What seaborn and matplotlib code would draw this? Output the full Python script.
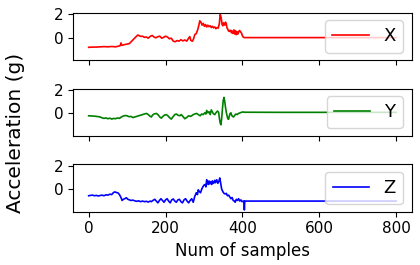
import matplotlib
matplotlib.use("Agg")
import matplotlib.pyplot as plt
import seaborn as sns
import pandas as pd

# ---- data ----
x_samples = [0, 10, 20, 30, 40, 50, 60, 70, 78, 82, 84, 86, 90, 95, 100, 106, 112, 118, 124, 128,
             132, 136, 140, 145, 150, 155, 160, 165, 170, 175, 180, 185, 190, 195, 200, 205, 210,
             215, 220, 225, 230, 235, 240, 245, 250, 255, 260, 263, 266, 270, 273, 276, 280, 284,
             287, 289, 292, 295, 298, 301, 304, 307, 310, 313, 316, 319, 322, 325, 328, 331, 334,
             337, 340, 342, 343, 345, 347, 349, 351, 354, 356, 358, 360, 362, 364, 366, 368, 370,
             372, 374, 376, 378, 380, 382, 384, 386, 388, 390, 392, 394, 396, 398, 400, 402, 405,
             500, 600, 700, 800]
x_accel = [-0.82, -0.80, -0.80, -0.78, -0.76, -0.78, -0.75, -0.78, -0.72, -0.68, -0.45, -0.65,
           -0.62, -0.58, -0.55, -0.50, -0.30, -0.10, 0.10, 0.22, 0.15, 0.10, 0.12, 0.02, 0.05,
           -0.05, 0.10, 0.18, 0.05, -0.02, 0.08, 0.12, -0.05, 0.02, 0.12, 0.05, -0.10, -0.05,
           -0.30, -0.35, -0.25, -0.30, -0.18, -0.28, -0.20, -0.30, -0.05, 0.08, -0.25, -0.30,
           -0.10, 0.25, 0.35, 0.70, 1.10, 1.42, 1.30, 1.05, 1.20, 0.95, 1.10, 0.90, 1.05, 0.92,
           1.00, 0.85, 0.95, 0.82, 0.90, 0.75, 0.85, 0.80, 1.20, 1.95, 1.90, 1.60, 1.10, 1.00,
           1.25, 1.05, 1.30, 1.15, 0.80, 0.70, 0.55, 0.60, 0.50, 0.62, 0.40, 0.55, 0.35, 0.65,
           0.30, 0.58, 0.25, 0.50, 0.30, 0.45, 0.60, 0.55, 0.45, 0.35, 0.15, 0.05, 0.00,
           0.00, 0.00, 0.00, 0.00]

y_samples = [0, 10, 20, 30, 35, 40, 45, 50, 55, 60, 65, 70, 75, 80, 85, 90, 95, 100, 105, 110,
             115, 120, 125, 130, 135, 140, 145, 150, 155, 160, 163, 166, 170, 176, 180, 185, 189,
             193, 197, 202, 206, 210, 215, 219, 224, 228, 232, 237, 241, 245, 250, 255, 260, 265,
             268, 272, 276, 281, 285, 290, 294, 298, 302, 305, 307, 310, 313, 316, 319, 322, 325,
             328, 331, 335, 338, 340, 342, 344, 346, 348, 350, 352, 354, 356, 358, 360, 362, 364,
             366, 368, 370, 372, 374, 377, 380, 383, 386, 390, 394, 398, 402, 406,
             500, 600, 700, 800]
y_accel = [-0.20, -0.22, -0.25, -0.30, -0.38, -0.42, -0.38, -0.45, -0.40, -0.48, -0.42, -0.45,
           -0.38, -0.42, -0.30, -0.22, -0.18, -0.20, -0.28, -0.25, -0.35, -0.30, -0.25, -0.20,
           -0.15, -0.10, -0.05, 0.00, -0.10, -0.25, -0.30, -0.15, -0.05, 0.00, -0.10, -0.30,
           -0.40, -0.25, -0.15, -0.10, -0.20, -0.35, -0.48, -0.30, -0.10, -0.05, -0.15, -0.20,
           -0.10, -0.25, -0.45, -0.35, -0.20, -0.25, -0.20, -0.10, -0.05, 0.00, -0.10, -0.20,
           -0.05, -0.10, 0.05, -0.05, 0.25, 0.05, 0.15, -0.10, 0.30, 0.10, -0.05, -0.10, 0.05,
           0.20, 0.10, -0.40, -0.80, -0.96, -0.40, 0.40, 1.10, 1.35, 1.00, 0.50, 0.10, -0.20,
           -0.45, -0.50, -0.20, 0.00, 0.05, -0.15, -0.25, -0.30, -0.15, -0.05, -0.10, 0.00,
           0.05, 0.10, 0.12, 0.10, 0.09, 0.09, 0.09, 0.09]

z_samples = [0, 5, 10, 15, 20, 25, 30, 35, 40, 45, 50, 55, 60, 64, 68, 72, 76, 80, 84, 87, 90,
             94, 98, 102, 106, 110, 115, 120, 125, 130, 135, 140, 145, 150, 155, 160, 163, 167,
             172, 176, 180, 184, 188, 192, 196, 200, 204, 208, 212, 216, 220, 224, 228, 232, 236,
             240, 244, 248, 252, 256, 260, 264, 268, 272, 276, 280, 283, 285, 288, 291, 294, 297,
             300, 303, 305, 307, 309, 311, 313, 315, 318, 320, 322, 325, 328, 330, 333, 336, 339,
             341, 343, 346, 349, 352, 355, 358, 361, 364, 367, 370, 373, 376, 379, 381, 384, 387,
             390, 393, 396, 399, 402, 404, 405, 406, 500, 600, 700, 800]
z_accel = [-0.55, -0.52, -0.50, -0.55, -0.52, -0.57, -0.53, -0.50, -0.55, -0.47, -0.50, -0.42,
           -0.45, -0.30, -0.22, -0.28, -0.30, -0.45, -0.70, -0.95, -0.85, -0.80, -0.72, -0.85,
           -0.90, -0.95, -0.92, -0.98, -1.02, -0.98, -1.05, -1.00, -1.05, -1.02, -1.08, -1.00,
           -1.05, -0.95, -0.85, -1.00, -1.15, -0.95, -0.80, -0.95, -1.10, -0.90, -0.80, -1.00,
           -1.15, -0.90, -0.82, -1.00, -1.10, -0.90, -0.85, -1.05, -1.15, -0.90, -0.80, -1.00,
           -1.15, -0.95, -0.80, -1.10, -0.60, -0.30, -0.45, -0.05, -0.20, -0.30, 0.00, 0.20,
           0.35, 0.40, 0.20, 0.80, 0.55, 0.40, 0.70, 0.45, 0.65, 0.40, 0.70, 0.50, 0.75, 0.55,
           0.80, 0.50, 0.70, 0.95, 0.60, 0.00, -0.20, -0.35, -0.40, -0.35, -0.55, -0.50, -0.65,
           -0.80, -0.70, -0.95, -1.00, -1.10, -0.85, -0.95, -0.80, -1.00, -0.90, -1.05, -1.00,
           -1.00, -1.75, -1.00, -1.00, -1.00, -1.00, -1.00]

axis_labels = ["X", "Y", "Z"]
line_colors = ["red", "green", "blue"]
y_tick_values = [0, 2]

series = [(x_samples, x_accel), (y_samples, y_accel), (z_samples, z_accel)]

fig, axes = plt.subplots(3, 1, figsize=(4.2, 2.65), dpi=100, sharex=True, sharey=True)
fig.subplots_adjust(left=0.1745, right=0.98, top=0.952, bottom=0.201, hspace=0.6)

for ax, (s, a), lab, col in zip(axes, series, axis_labels, line_colors):
    df = pd.DataFrame({"sample": s, "accel": a})
    sns.lineplot(data=df, x="sample", y="accel", color=col, label=lab, ax=ax, linewidth=1.2)
    ax.set_ylabel("")
    ax.set_xlabel("")
    ax.set_yticks(y_tick_values)
    ax.set_ylim(-1.9, 2.1)
    ax.tick_params(labelsize=11)
    ax.legend(loc="center right", fontsize=13)

axes[-1].set_xlabel("Num of samples", fontsize=12)
fig.text(0.036, 0.498, "Acceleration (g)", rotation=90, fontsize=14.5,
         ha="center", va="center")

fig.savefig("out.png", dpi=100)
